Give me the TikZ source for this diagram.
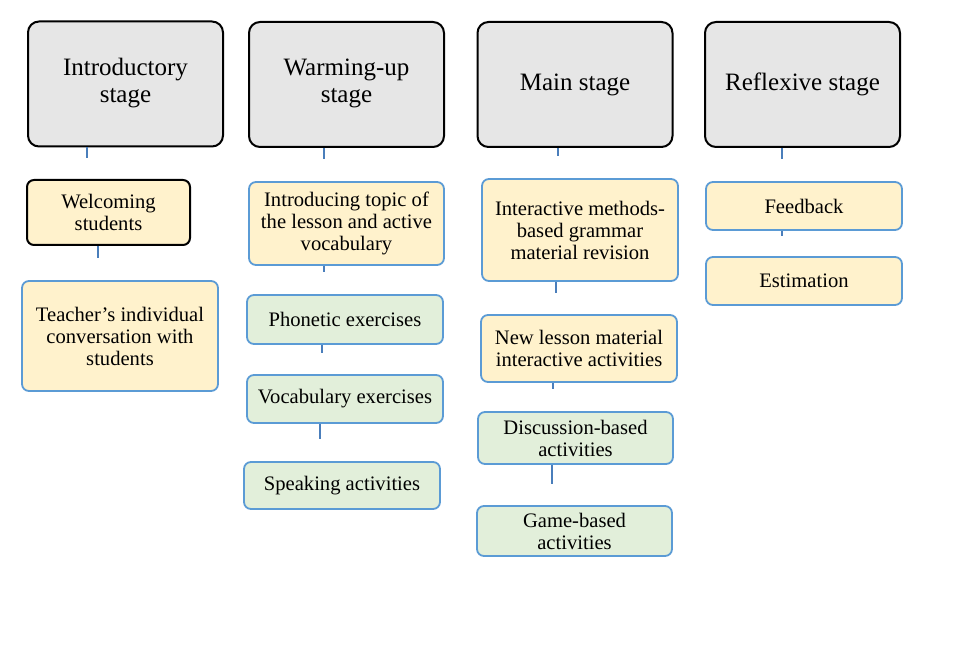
\documentclass[tikz,border=0pt]{standalone}
\usepackage{fontspec}
\setmainfont{Liberation Serif}

\definecolor{stagegray}{RGB}{230,230,230}
\definecolor{creamfill}{RGB}{255,242,204}
\definecolor{greenfill}{RGB}{226,239,218}
\definecolor{boxblue}{RGB}{91,155,213}
\definecolor{stubblue}{RGB}{74,126,187}

\begin{document}
\begin{tikzpicture}[%
        % one unit is one pixel of the page, y runs downwards
        x=1pt,y=-1pt,
        stagebox/.style={draw=black,fill=stagegray,line width=2pt,rounded corners=11pt,
            align=center,inner sep=0pt,minimum width=195pt,minimum height=125pt,
            font=\fontsize{25}{27}\selectfont},
        stepbox/.style={draw=boxblue,line width=1.8pt,rounded corners=7pt,
            align=center,inner sep=0pt,font=\fontsize{20.6}{22}\selectfont},
        creambox/.style={stepbox,fill=creamfill},
        greenbox/.style={stepbox,fill=greenfill},
        stub/.style={draw=stubblue,line width=1.8pt}
        ]

        \useasboundingbox (0,0) rectangle (975,647);

        % stage headers
        \node[stagebox] (intro) at (125.5,84) {Introductory\\\strut stage};
        \node[stagebox] (warm) at (346.5,84.5) {Warming-up\\\strut stage};
        \node[stagebox] (main) at (575,84.5) {Main stage};
        \node[stagebox] (refl) at (802.5,84.5) {Reflexive stage};

        % introductory stage
        \node[creambox,draw=black,line width=2pt,minimum width=163pt,minimum height=65pt]
            (welc) at (108.5,212.5) {Welcoming\\students};
        \node[creambox,minimum width=196pt,minimum height=110pt]
            (talk) at (120,336) {Teacher's individual\\conversation with\\students};

        % warming-up stage
        \node[creambox,minimum width=195pt,minimum height=83pt]
            (topic) at (346.5,223.5) {Introducing topic of\\the lesson and active\\vocabulary};
        \node[greenbox,minimum width=196pt,minimum height=49pt]
            (phon) at (345,319.5) {Phonetic exercises};
        \node[greenbox,minimum width=196pt,minimum height=48pt]
            (voc) at (345,399) {Vocabulary exercises};
        \node[greenbox,minimum width=196pt,minimum height=47pt]
            (speak) at (342,485.5) {Speaking activities};

        % main stage
        \node[creambox,minimum width=196pt,minimum height=102pt]
            (gram) at (580,230) {Interactive methods-\\based grammar\\material revision};
        \node[creambox,minimum width=196pt,minimum height=67pt]
            (new) at (579,348.5) {New lesson material\\interactive activities};
        \node[greenbox,minimum width=195pt,minimum height=52pt]
            (disc) at (575.5,438) {Discussion-based\\activities};
        \node[greenbox,minimum width=195pt,minimum height=50pt]
            (game) at (574.5,531) {Game-based\\activities};

        % reflexive stage
        \node[creambox,minimum width=196pt,minimum height=48pt]
            (feed) at (804,206) {Feedback};
        \node[creambox,minimum width=196pt,minimum height=48pt]
            (est) at (804,281) {Estimation};

        % short stubs under the boxes
        \coordinate (sIntro) at (87,158);
        \coordinate (sWarm) at (324,159);
        \coordinate (sMain) at (558,156);
        \coordinate (sRefl) at (782,159);
        \coordinate (sWelc) at (98,258);
        \coordinate (sTopic) at (324,272);
        \coordinate (sPhon) at (322,353);
        \coordinate (sVoc) at (320,439);
        \coordinate (sGram) at (556,293);
        \coordinate (sNew) at (553,389);
        \coordinate (sDisc) at (552,484);
        \coordinate (sFeed) at (782,236);

        \draw[stub] (intro.south -| sIntro) -- (sIntro);
        \draw[stub] (warm.south -| sWarm) -- (sWarm);
        \draw[stub] (main.south -| sMain) -- (sMain);
        \draw[stub] (refl.south -| sRefl) -- (sRefl);
        \draw[stub] (welc.south -| sWelc) -- (sWelc);
        \draw[stub] (topic.south -| sTopic) -- (sTopic);
        \draw[stub] (phon.south -| sPhon) -- (sPhon);
        \draw[stub] (voc.south -| sVoc) -- (sVoc);
        \draw[stub] (gram.south -| sGram) -- (sGram);
        \draw[stub] (new.south -| sNew) -- (sNew);
        \draw[stub] (disc.south -| sDisc) -- (sDisc);
        \draw[stub] (feed.south -| sFeed) -- (sFeed);

    \end{tikzpicture}
\end{document}
